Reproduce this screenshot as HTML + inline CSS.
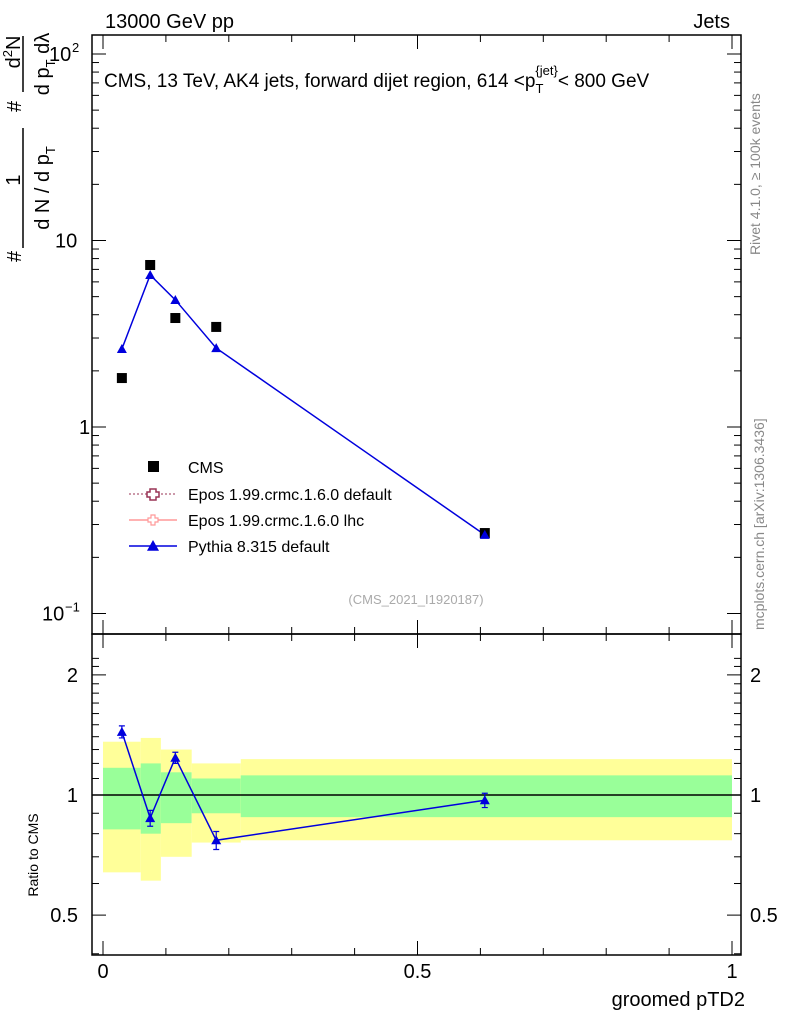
<!DOCTYPE html>
<html><head><meta charset="utf-8"><style>
body{margin:0;background:#fff;}
svg{display:block;font-family:"Liberation Sans",sans-serif;}
text{stroke:none;}
</style></head><body>
<svg id="c" width="786" height="1024" viewBox="0 0 786 1024">
<g id="bands"></g>
<g id="frame" fill="none" stroke="#000" stroke-width="1.5">
<rect x="92" y="35" width="649" height="599"/>
<rect x="92" y="634" width="649" height="321"/>
</g>
<g id="ticks" stroke="#000" stroke-width="1"></g>
<g id="labels" fill="#000"></g>
<g id="marks"></g>
<text x="105" y="28" font-size="20">13000 GeV pp</text>
<text x="730" y="28" font-size="20" text-anchor="end">Jets</text>
<text x="104" y="87" font-size="19">CMS, 13 TeV, AK4 jets, forward dijet region, 614 &lt;p<tspan font-size="13" dy="6">T</tspan><tspan font-size="13" dy="-18" dx="-8">{jet}</tspan><tspan dy="12">&lt; 800 GeV</tspan></text>
<text x="416" y="604" font-size="13" fill="#aaa" text-anchor="middle">(CMS_2021_I1920187)</text>
<text transform="translate(760,255) rotate(-90)" font-size="14" fill="#888">Rivet 4.1.0, ≥ 100k events</text>
<text transform="translate(764,630) rotate(-90)" font-size="14" fill="#888">mcplots.cern.ch [arXiv:1306.3436]</text>
<g font-size="20">
<text transform="translate(21,262) rotate(-90)">#</text>
<text transform="translate(20,180) rotate(-90)" text-anchor="middle">1</text>
<text transform="translate(21,112) rotate(-90)">#</text>
<text transform="translate(20,52) rotate(-90)" text-anchor="middle">d<tspan font-size="13" dy="-8">2</tspan><tspan dy="8">N</tspan></text>
<line x1="23" y1="248" x2="23" y2="128" stroke="#000" stroke-width="1.5"/>
<line x1="23" y1="92" x2="23" y2="36" stroke="#000" stroke-width="1.5"/>
<text transform="translate(49,188) rotate(-90)" text-anchor="middle">d N / d p<tspan font-size="13" dy="6">T</tspan></text>
<text transform="translate(49,64) rotate(-90)" text-anchor="middle">d p<tspan font-size="13" dy="6">T</tspan><tspan dy="-6"> dλ</tspan></text>
</g>
<text transform="translate(38,855) rotate(-90)" font-size="14" text-anchor="middle">Ratio to CMS</text>
<text x="745" y="1006" font-size="20" text-anchor="end">groomed pTD2</text>
<g id="legend" font-size="16"></g>
</svg>
<script>
const binEdges=[0,0.06,0.092,0.141,0.219,1.0];
const xVals=[0.03,0.075,0.115,0.18,0.607];
const cmsVals=[1.83,7.39,3.84,3.44,0.27];
const pythiaVals=[2.62,6.53,4.8,2.65,0.264];
const ratioVals=[1.44,0.875,1.24,0.77,0.97];
const ratioErr=[0.05,0.04,0.04,0.04,0.04];
const yellowHi=[1.36,1.39,1.30,1.20,1.23];
const yellowLo=[0.64,0.61,0.70,0.76,0.77];
const greenHi=[1.17,1.20,1.14,1.10,1.12];
const greenLo=[0.82,0.80,0.85,0.90,0.88];
const xTicks=[0,0.5,1];
const xTickLabels=["0","0.5","1"];
const ratioTicks=[0.5,1,2];
const ratioTickLabels=["0.5","1","2"];

const NS="http://www.w3.org/2000/svg";
const X=v=>103+v*629;
const Y=v=>427-Math.log10(v)*186.5;
const R=v=>795-Math.log10(v)*399;
function el(t,a,p){const e=document.createElementNS(NS,t);for(const k in a)e.setAttribute(k,a[k]);document.getElementById(p).appendChild(e);return e;}

for(let i=0;i<5;i++){
 const x0=X(binEdges[i]),x1=X(binEdges[i+1]);
 const y=el('rect',{x:x0,y:R(yellowHi[i]),width:x1-x0,height:R(yellowLo[i])-R(yellowHi[i]),fill:'#ffff99'},'bands');
 
 
 const g=el('rect',{x:x0,y:R(greenHi[i]),width:x1-x0,height:R(greenLo[i])-R(greenHi[i]),fill:'#99ff99'},'bands');
 
 
}
const one=el('line',{x1:92,x2:741,y1:R(1),y2:R(1),stroke:'#000','stroke-width':1.5},'bands');



for(let d=-1;d<=2;d++){
 for(let m=1;m<10;m++){
  const v=m*Math.pow(10,d);const y=Y(v);if(y<35||y>634)continue;
  const L=m===1?14:7;
  el('line',{x1:92,x2:92+L,y1:y,y2:y},'ticks');
  el('line',{x1:741,x2:741-L,y1:y,y2:y},'ticks');
 }
}
const mlab=[[0.1,"10","−1",42],[1,"1","",79],[10,"10","",55],[100,"10","2",49]];
mlab.forEach(l=>{const t=el('text',{x:l[3],y:Y(l[0])+7,'font-size':20},'labels');t.textContent=l[1];
 
 
 if(l[2]){const s=el('text',{x:l[3]+23,y:Y(l[0])-2,'font-size':13},'labels');s.textContent=l[2];}
});
for(let v=0.4;v<=2.3;v+=0.1){const y=R(v);if(y<634||y>955)continue;
 const maj=ratioTicks.some(t=>Math.abs(t-v)<1e-6);
 el('line',{x1:92,x2:92+(maj?14:7),y1:y,y2:y},'ticks');el('line',{x1:741,x2:741-(maj?14:7),y1:y,y2:y},'ticks');}
ratioTicks.forEach((v,i)=>{
 const a=el('text',{x:78,y:R(v)+7,'font-size':20,'text-anchor':'end'},'labels');a.textContent=ratioTickLabels[i];
 
 
 const b=el('text',{x:750,y:R(v)+7,'font-size':20},'labels');b.textContent=ratioTickLabels[i];
 
 
});
for(let v=0;v<=1.0001;v+=0.1){const x=X(v);const maj=Math.abs(v*2-Math.round(v*2))<1e-6;const L=maj?14:7;
 [35,634].forEach(y=>el('line',{x1:x,x2:x,y1:y,y2:y+L},'ticks'));
 [634,955].forEach(y=>el('line',{x1:x,x2:x,y1:y,y2:y-L},'ticks'));}
xTicks.forEach((v,i)=>{const t=el('text',{x:X(v),y:978,'font-size':20,'text-anchor':'middle'},'labels');t.textContent=xTickLabels[i];
 
 });

function tri(x,y,s){return `${x},${y-s} ${x-s},${y+s*0.8} ${x+s},${y+s*0.8}`;}
const pl=el('polyline',{points:xVals.map((x,i)=>X(x)+','+Y(pythiaVals[i])).join(' '),fill:'none',stroke:'#0000dd','stroke-width':1.5},'marks');


xVals.forEach((x,i)=>{
 const c=el('rect',{x:X(x)-5,y:Y(cmsVals[i])-5,width:10,height:10,fill:'#000'},'marks');
 
 
 const p=el('polygon',{points:tri(X(x),Y(pythiaVals[i]),5),fill:'#0000dd'},'marks');
 
 
});
const rl=el('polyline',{points:xVals.map((x,i)=>X(x)+','+R(ratioVals[i])).join(' '),fill:'none',stroke:'#0000dd','stroke-width':1.5},'marks');


xVals.forEach((x,i)=>{
 const cx=X(x),t=R(ratioVals[i]+ratioErr[i]),b=R(ratioVals[i]-ratioErr[i]);
 el('path',{d:`M${cx},${t}V${b}M${cx-3},${t}h6M${cx-3},${b}h6`,stroke:'#0000dd','stroke-width':1.2,fill:'none'},'marks');
 const p=el('polygon',{points:tri(cx,R(ratioVals[i]),5),fill:'#0000dd'},'marks');
 
 
});

const lg=[["CMS",467],["Epos 1.99.crmc.1.6.0 default",494],["Epos 1.99.crmc.1.6.0 lhc",520],["Pythia 8.315 default",546]];
lg.forEach((l,i)=>{const t=el('text',{x:188,y:l[1]+6},'legend');t.textContent=l[0];
 
 });
el('rect',{x:148,y:461,width:11,height:11,fill:'#000'},'legend');
el('line',{x1:129,x2:177,y1:494,y2:494,stroke:'#993355','stroke-dasharray':'2,2'},'legend');
el('path',{d:'M150,489h6v3h3v5h-3v3h-6v-3h-3v-5h3z',fill:'#fff',stroke:'#993355','stroke-width':1.5},'legend');
el('line',{x1:129,x2:177,y1:520,y2:520,stroke:'#ff9999','stroke-width':1.5},'legend');
el('path',{d:'M151,515h4v3h3v4h-3v3h-4v-3h-3v-4h3z',fill:'#fff',stroke:'#ff9999','stroke-width':1.2},'legend');
el('line',{x1:129,x2:177,y1:546,y2:546,stroke:'#0000dd','stroke-width':1.5},'legend');
el('polygon',{points:tri(153,546,6),fill:'#0000dd'},'legend');
</script>
</body></html>
